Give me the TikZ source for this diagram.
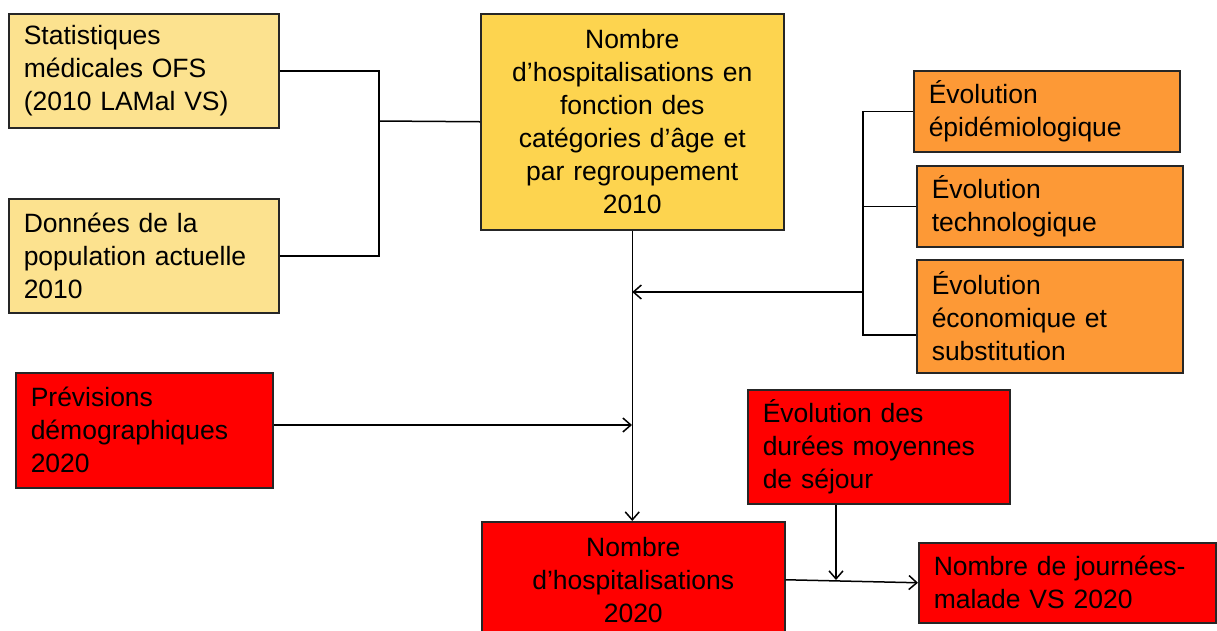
\documentclass[tikz,border=0pt]{standalone}
\usepackage{fontspec}
\setmainfont{Liberation Sans}
\usetikzlibrary{arrows.meta}
\definecolor{lyel}{HTML}{FCE28F}
\definecolor{yel}{HTML}{FDD44F}
\definecolor{org}{HTML}{FD9936}
\definecolor{rd}{HTML}{FF0000}
\tikzset{
  box/.style={draw=black!85, line width=1.5pt, inner xsep=15pt, inner ysep=0pt,
    anchor=north west, font=\fontsize{26.5}{33}\selectfont, align=left},
  conn/.style={line width=1.5pt},
  arr/.style={conn, -{Straight Barb[length=8pt,width=14pt,line width=1.5pt]}},
}
\begin{document}
\begin{tikzpicture}[x=1pt,y=-1pt]
\useasboundingbox (0,0) rectangle (1217,630);
% boxes
\node[box, fill=lyel, text width=240pt, minimum height=114pt] (A) at (8,13) {Statistiques\\médicales OFS\\(2010 LAMal VS)};
\node[box, fill=lyel, text width=240pt, minimum height=114pt] (B) at (8,198) {Données de la\\population actuelle\\2010};
\node[box, fill=yel, text width=273pt, minimum height=216pt, align=center] (C) at (480,13) {Nombre\\d’hospitalisations en\\fonction des\\catégories d’âge et\\par regroupement\\2010};
\node[box, fill=org, text width=236pt, minimum height=81pt] (D) at (913,70) {Évolution\\épidémiologique};
\node[box, fill=org, text width=236pt, minimum height=81pt] (F) at (916,165) {Évolution\\technologique};
\node[box, fill=org, text width=236pt, minimum height=113pt] (G) at (916,259) {Évolution\\économique et\\substitution};
\node[box, fill=rd, text width=227pt, minimum height=115pt] (P) at (15,372) {Prévisions\\démographiques\\2020};
\node[box, fill=rd, text width=232pt, minimum height=114pt] (H) at (747,389) {Évolution des\\durées moyennes\\de séjour};
\node[box, fill=rd, text width=273pt, minimum height=116pt, align=center] (E) at (481,521) {Nombre\\d’hospitalisations\\2020};
\node[box, fill=rd, text width=267pt, minimum height=80pt] (I) at (918,542) {Nombre de journées-\\malade VS 2020};
% left bracket
\coordinate (m) at (379,121);
\draw[conn] (A.east) -| (m);
\draw[conn] (B.east) -| (m);
\draw[conn] (m) -- (C.west);
% main vertical
\draw[arr] (C.south) -- (C.south |- E.north);
% right bracket
\coordinate (k) at (863,292);
\coordinate (g) at (863,335);
\draw[conn] (D.west) -| (g) -- (G.west |- g);
\draw[conn] (F.west) -- (F.west -| k);
\draw[arr] (k) -- (k -| C.south);
% previsions
\coordinate (pin) at (632,425);
\draw[arr] (P.east |- pin) -- (pin);
% bottom
\draw[arr] (E.east) -- (I.west);
\coordinate (j) at (836,580);
\draw[arr] (H.south -| j) -- (j);
\end{tikzpicture}
\end{document}
